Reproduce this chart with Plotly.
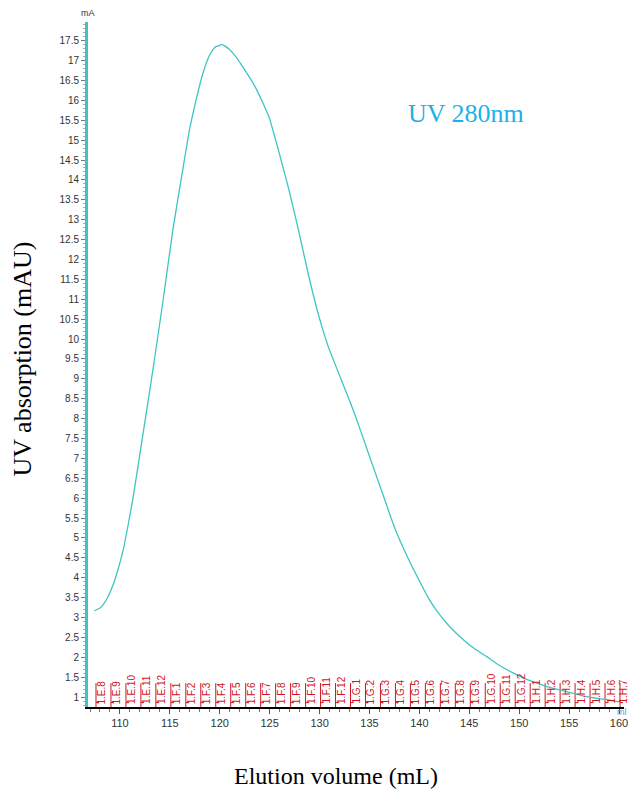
import plotly.graph_objects as go

# ---- data ----
volume_ml = [107.42, 108.0, 108.34, 108.8, 109.33, 109.8, 110.33, 110.8, 111.32, 112.32,
             113.31, 114.31, 115.30, 116.29, 116.96, 117.62, 118.28, 118.95, 119.3, 119.61,
             119.9, 120.21, 120.5, 120.93, 121.6, 122.26, 123.59, 124.91, 125.90, 126.90,
             127.89, 128.89, 129.88, 130.87, 132.20, 133.53, 134.85, 136.18, 137.50, 138.83,
             140.15, 141.0, 141.8, 143.0, 144.46, 145.6, 146.78, 148.0, 149.43, 150.4, 151.42,
             152.7, 154.07, 155.4, 156.72, 157.7, 158.71, 159.5, 160.03]
uv_mau = [3.17, 3.24, 3.33, 3.52, 3.83, 4.2, 4.70, 5.3, 6.02, 7.63,
          9.24, 10.95, 12.74, 14.25, 15.25, 16.0, 16.65, 17.12, 17.27, 17.35,
          17.37, 17.41, 17.37, 17.29, 17.1, 16.86, 16.32, 15.6, 14.73, 13.78,
          12.74, 11.61, 10.62, 9.81, 8.96, 8.11, 7.16, 6.21, 5.27, 4.51,
          3.85, 3.45, 3.15, 2.78, 2.43, 2.2, 2.01, 1.8, 1.60, 1.48, 1.38,
          1.27, 1.18, 1.09, 1.01, 0.97, 0.94, 0.90, 0.88]

fraction_start = [107.6, 109.1, 110.6, 112.1, 113.6, 115.1, 116.6, 118.1, 119.6, 121.1,
                  122.6, 124.1, 125.6, 127.1, 128.6, 130.1, 131.6, 133.1, 134.6, 136.1,
                  137.6, 139.1, 140.6, 142.1, 143.6, 145.1, 146.6, 148.1, 149.6, 151.1,
                  152.6, 154.1, 155.6, 157.1, 158.6, 160.1]
fraction_labels = (["1.E.%d" % i for i in range(8, 13)] + ["1.F.%d" % i for i in range(1, 13)]
                   + ["1.G.%d" % i for i in range(1, 13)] + ["1.H.%d" % i for i in range(1, 8)])

y_ticks = [1 + 0.5 * i for i in range(34)]
y_ticktext = [("%g" % v) for v in y_ticks]
x_ticks = [110, 115, 120, 125, 130, 135, 140, 145, 150, 155, 160]

X_RANGE = [106.8, 160.5]
Y_RANGE = [0.75, 17.97]

W, H = 633, 791
L, R, T, B = 88, 5, 22, 84
PW, PH = W - L - R, H - T - B

TEAL = "#3fc4c4"
RED = "#d0141e"


def px_x(p):
    return (p - L) / PW


def px_y(p):
    return 1 - (p - T) / PH


fig = go.Figure()

# fraction marks (vertical red line + small hook)
fx, fy = [], []
for b in fraction_start:
    fx += [b, b, None, b, b + 0.3, None]
    fy += [Y_RANGE[0], 1.35, None, 0.86, 0.86, None]
fig.add_trace(go.Scatter(x=fx, y=fy, mode="lines", line=dict(color=RED, width=1),
                         hoverinfo="skip", showlegend=False, cliponaxis=False))

fig.add_trace(go.Scatter(x=volume_ml, y=uv_mau, mode="lines",
                         line=dict(color=TEAL, width=1.3, shape="spline", smoothing=0.4),
                         showlegend=False))

anns = []
n = len(fraction_start)
for i, (b, lab) in enumerate(zip(fraction_start, fraction_labels)):
    anns.append(dict(x=b, xref="x", xanchor="left", xshift=(-4 if i == n - 1 else -1),
                     y=Y_RANGE[0] + 0.05, yref="y", text=lab, textangle=-90,
                     showarrow=False, yanchor="bottom", borderpad=0,
                     font=dict(family="Liberation Sans", size=10, color=RED)))

anns += [
    dict(text="UV absorption (mAU)", x=px_x(22), y=px_y(359), xref="paper", yref="paper",
         textangle=-90, showarrow=False, xanchor="center", yanchor="middle",
         font=dict(family="Liberation Serif", size=26, color="black")),
    dict(text="Elution volume (mL)", x=px_x(338), y=px_y(776), xref="paper",
         yref="paper", showarrow=False, xanchor="center", yanchor="middle",
         font=dict(family="Liberation Serif", size=24, color="black")),
    dict(text="UV 280nm", x=px_x(469), y=px_y(113), xref="paper", yref="paper",
         showarrow=False, xanchor="center", yanchor="middle",
         font=dict(family="Liberation Serif", size=26, color="#1ab2ea")),
    dict(text="mA", x=px_x(88), y=px_y(13), xref="paper", yref="paper", showarrow=False,
         xanchor="center", yanchor="middle",
         font=dict(family="Liberation Sans", size=9, color="#333333")),
    dict(text="ml", x=px_x(633), y=px_y(712), xref="paper", yref="paper", showarrow=False,
         xanchor="right", yanchor="middle",
         font=dict(family="Liberation Sans", size=9, color="#5b9bd5")),
]

fig.update_layout(
    width=W, height=H,
    margin=dict(l=L, r=R, t=T, b=B),
    paper_bgcolor="white", plot_bgcolor="white",
    font=dict(family="Liberation Sans", size=10, color="#333333"),
    xaxis=dict(range=X_RANGE, tickvals=x_ticks, ticks="outside", ticklen=5,
               tickcolor="#555555", showline=True, linecolor="black", linewidth=2,
               showgrid=False, zeroline=False, tickfont=dict(size=11, color="#333333"),
               minor=dict(dtick=1, tick0=0, ticks="outside", ticklen=3, tickcolor="#777777")),
    yaxis=dict(range=Y_RANGE, tickvals=y_ticks, ticktext=y_ticktext, ticks="outside",
               ticklen=4, tickcolor="#777777", showline=True, linecolor=TEAL, linewidth=3,
               showgrid=False, zeroline=False, tickfont=dict(size=10, color="#333333"),
               minor=dict(dtick=0.1, tick0=0, ticks="outside", ticklen=2, tickcolor="#aaaaaa")),
    annotations=anns,
)

fig.write_html("out.html")
